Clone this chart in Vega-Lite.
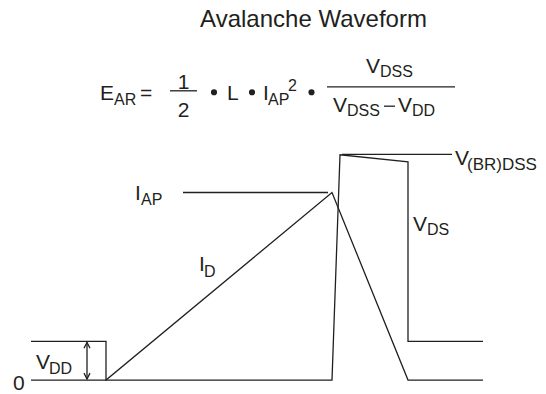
{
  "$schema": "https://vega.github.io/schema/vega-lite/v6.json",
  "width": 546,
  "height": 394,
  "autosize": {"type": "fit", "contains": "padding"},
  "padding": 0,
  "background": "white",
  "config": {
    "view": {"stroke": null},
    "text": {"font": "Liberation Sans", "color": "#231f20"}
  },
  "datasets": {
    "lines": [
      {"s": "VDS", "i": 0, "x": 31, "y": 344},
      {"s": "VDS", "i": 1, "x": 106, "y": 344},
      {"s": "VDS", "i": 2, "x": 106, "y": 383},
      {"s": "VDS", "i": 3, "x": 332, "y": 383},
      {"s": "VDS", "i": 4, "x": 340, "y": 156},
      {"s": "VDS", "i": 5, "x": 408, "y": 163},
      {"s": "VDS", "i": 6, "x": 408, "y": 344},
      {"s": "VDS", "i": 7, "x": 483, "y": 344},
      {"s": "ID", "i": 0, "x": 31, "y": 383},
      {"s": "ID", "i": 1, "x": 106, "y": 383},
      {"s": "ID", "i": 2, "x": 332, "y": 194},
      {"s": "ID", "i": 3, "x": 408, "y": 383},
      {"s": "ID", "i": 4, "x": 483, "y": 383},
      {"s": "IAP", "i": 0, "x": 183, "y": 194},
      {"s": "IAP", "i": 1, "x": 328, "y": 194},
      {"s": "BR", "i": 0, "x": 342, "y": 155.5},
      {"s": "BR", "i": 1, "x": 452, "y": 155.5},
      {"s": "arrow", "i": 0, "x": 87, "y": 345},
      {"s": "arrow", "i": 1, "x": 87, "y": 382},
      {"s": "headTop", "i": 0, "x": 84, "y": 351},
      {"s": "headTop", "i": 1, "x": 87, "y": 345},
      {"s": "headTop", "i": 2, "x": 90, "y": 351},
      {"s": "headBot", "i": 0, "x": 84, "y": 376},
      {"s": "headBot", "i": 1, "x": 87, "y": 382},
      {"s": "headBot", "i": 2, "x": 90, "y": 376},
      {"s": "frac1", "i": 0, "x": 170, "y": 91.5},
      {"s": "frac1", "i": 1, "x": 197, "y": 91.5},
      {"s": "frac2", "i": 0, "x": 327, "y": 87.5},
      {"s": "frac2", "i": 1, "x": 455, "y": 87.5},
      {"s": "minus", "i": 0, "x": 384, "y": 107},
      {"s": "minus", "i": 1, "x": 395, "y": 107}
    ],
    "bullets": [
      {"x": 214, "y": 93},
      {"x": 252, "y": 93},
      {"x": 311.5, "y": 93}
    ],
    "main": [
      {"t": "E", "x": 100, "y": 101},
      {"t": "=", "x": 140, "y": 101},
      {"t": "L", "x": 227, "y": 100.5},
      {"t": "I", "x": 263, "y": 100.5},
      {"t": "V", "x": 366, "y": 73.5},
      {"t": "V", "x": 333, "y": 113},
      {"t": "V", "x": 398, "y": 113},
      {"t": "V", "x": 455, "y": 166.5},
      {"t": "V", "x": 413, "y": 233},
      {"t": "I", "x": 135, "y": 202},
      {"t": "I", "x": 199, "y": 273},
      {"t": "V", "x": 36, "y": 372},
      {"t": "0", "x": 13, "y": 393}
    ],
    "centered": [
      {"t": "1", "x": 183.5, "y": 90},
      {"t": "2", "x": 183.5, "y": 118}
    ],
    "sub": [
      {"t": "AR", "x": 114, "y": 106},
      {"t": "AP", "x": 268, "y": 106},
      {"t": "2", "x": 288, "y": 92},
      {"t": "DSS", "x": 380, "y": 78},
      {"t": "DSS", "x": 347, "y": 117},
      {"t": "DD", "x": 412, "y": 117},
      {"t": "DS", "x": 427, "y": 237},
      {"t": "AP", "x": 141, "y": 207},
      {"t": "D", "x": 204, "y": 279},
      {"t": "DD", "x": 49, "y": 377}
    ],
    "subWide": [
      {"t": "(BR)DSS", "x": 467, "y": 171.5}
    ],
    "title": [
      {"t": "Avalanche Waveform", "x": 313.5, "y": 27.5}
    ]
  },
  "encoding": {
    "x": {"field": "x", "type": "quantitative", "scale": {"domain": [0, 546], "nice": false, "zero": false}, "axis": null},
    "y": {"field": "y", "type": "quantitative", "scale": {"domain": [0, 394], "nice": false, "zero": false, "reverse": true}, "axis": null}
  },
  "layer": [
    {
      "data": {"name": "lines"},
      "mark": {"type": "line", "color": "#231f20", "strokeWidth": 1.3, "clip": false, "strokeJoin": "miter"},
      "encoding": {"detail": {"field": "s"}, "order": {"field": "i"}}
    },
    {
      "data": {"name": "bullets"},
      "mark": {"type": "circle", "color": "#231f20", "opacity": 1, "size": 38}
    },
    {
      "data": {"name": "main"},
      "mark": {"type": "text", "fontSize": 21, "align": "left", "baseline": "alphabetic"},
      "encoding": {"text": {"field": "t"}}
    },
    {
      "data": {"name": "centered"},
      "mark": {"type": "text", "fontSize": 21, "align": "center", "baseline": "alphabetic"},
      "encoding": {"text": {"field": "t"}}
    },
    {
      "data": {"name": "sub"},
      "mark": {"type": "text", "fontSize": 16, "align": "left", "baseline": "alphabetic"},
      "encoding": {"text": {"field": "t"}}
    },
    {
      "data": {"name": "subWide"},
      "mark": {"type": "text", "fontSize": 17, "align": "left", "baseline": "alphabetic"},
      "encoding": {"text": {"field": "t"}}
    },
    {
      "data": {"name": "title"},
      "mark": {"type": "text", "fontSize": 24, "align": "center", "baseline": "alphabetic"},
      "encoding": {"text": {"field": "t"}}
    }
  ]
}
